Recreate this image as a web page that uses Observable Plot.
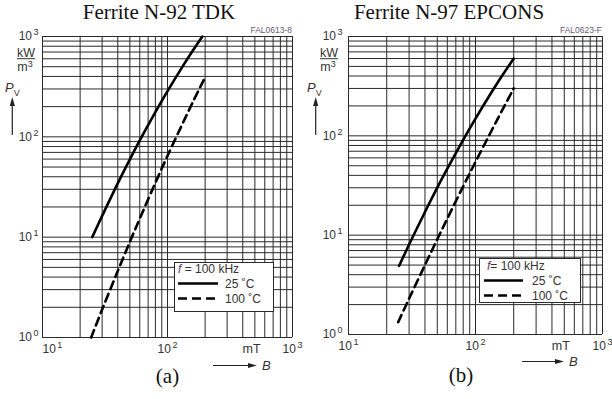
<!DOCTYPE html>
<html>
<head>
<meta charset="utf-8">
<script src="https://cdn.jsdelivr.net/npm/d3@7"></script>
<script src="https://cdn.jsdelivr.net/npm/@observablehq/plot@0.6"></script>
<style>
  body { margin: 0; background: #fff; }
  #wrap { position: relative; width: 612px; height: 399px; overflow: hidden; background: #fff; }
  .panel { position: absolute; top: 0; width: 306px; height: 399px; overflow: hidden; }
  #overlay { position: absolute; left: 0; top: 0; pointer-events: none; }
</style>
</head>
<body>
<div id="wrap">
  <div class="panel" id="pa" style="left:0"></div>
  <div class="panel" id="pb" style="left:306px"></div>
</div>
<script>
// ---------- data ----------
const titles = ["Ferrite N-92 TDK", "Ferrite N-97 EPCONS"];
const codes = ["FAL0613-8", "FAL0623-F"];
const panelLabels = ["(a)", "(b)"];
const seriesNames = ["25 \u02DAC", "100 \u02DAC"];
const freqLabel = "100 kHz";
const unitX = "mT";

// Panel (a) N-92 TDK : B in mT, Pv in kW/m3
const bA25 = [25, 30, 40, 50, 60, 80, 100, 130, 160, 190];
const pA25 = [10, 16.3, 34.4, 59.6, 92, 176, 285, 487, 728, 1000];
const bA100 = [24.5, 30, 40, 50, 60, 80, 100, 130, 160, 200];
const pA100 = [1, 1.9, 4.6, 9, 15.3, 34.8, 64.6, 130, 224, 393];
// Panel (b) N-97 EPCOS
const bB25 = [25, 30, 40, 50, 60, 80, 100, 130, 160, 200];
const pB25 = [4.9, 8.05, 17.1, 30.1, 46.7, 91.2, 149, 259, 393, 600];
const bB100 = [24.6, 30, 40, 50, 60, 80, 100, 130, 160, 200];
const pB100 = [1.33, 2.3, 5, 9.1, 14.7, 31, 54.6, 105, 175, 300];

// axes / grid
const xGrid = [10,20,30,40,50,60,70,80,90,100,200,300,400,500,600,700,800,900,1000];
const yGrid = [1,2,3,4,5,6,7,8,9,10,20,30,40,50,60,70,80,90,100,200,300,400,500,600,700,800,900,1000];
const xTicks = [10, 100, 1000];
const yTicks = [1, 10, 100, 1000];
const unitTick = [470];

const zip = (xs, ys) => xs.map((x, i) => ({B: x, P: ys[i]}));
const supFmt = d => "10^" + Math.round(Math.log10(d));
const svgNS = "http://www.w3.org/2000/svg";

function supify(svg) {
  svg.querySelectorAll("text").forEach(t => {
    const m = /^10\^(\d)$/.exec(t.textContent);
    if (m) {
      t.textContent = "10";
      const s = document.createElementNS(svgNS, "tspan");
      s.setAttribute("dx", "1.5");
      s.setAttribute("dy", "-5");
      s.setAttribute("font-size", "9");
      s.textContent = m[1];
      t.appendChild(s);
    }
  });
}

function makePanel(d25, d100, o) {
  const svg = Plot.plot({
    width: 306, height: 399,
    marginLeft: 42, marginRight: o.mr, marginTop: 36, marginBottom: o.mb,
    x: {type: "log", domain: [10, 1000]},
    y: {type: "log", domain: [1, 1000]},
    style: {background: "transparent", fontFamily: "'Liberation Sans', Arial, sans-serif", fontSize: "12px", color: "#333", overflow: "visible"},
    marks: [
      Plot.ruleX(xGrid, {stroke: "#2a2a2a", strokeWidth: 1}),
      Plot.ruleY(yGrid, {stroke: "#2a2a2a", strokeWidth: 1}),
      Plot.axisY({ticks: yTicks, tickFormat: supFmt, tickSize: 0, tickPadding: o.yPad, label: null, fontSize: 12}),
      Plot.axisX({ticks: xTicks.slice(1), tickFormat: supFmt, tickSize: 0, tickPadding: 7, label: null, fontSize: 12}),
      Plot.axisX({ticks: xTicks.slice(0, 1), tickFormat: supFmt, tickSize: 0, tickPadding: 7, label: null, fontSize: 12, textAnchor: o.firstAnchor}),
      Plot.axisX({ticks: unitTick, tickFormat: () => unitX, tickSize: 0, tickPadding: 7, label: null, fontSize: 12.5}),
      Plot.line(d25, {x: "B", y: "P", stroke: "#000", strokeWidth: 2.6, curve: "catmull-rom"}),
      Plot.line(d100, {x: "B", y: "P", stroke: "#000", strokeWidth: 2.6, strokeDasharray: "8,5", curve: "catmull-rom"})
    ]
  });
  supify(svg);
  return svg;
}

document.getElementById("pa").appendChild(makePanel(zip(bA25, pA25), zip(bA100, pA100), {mr: 14, mb: 62, yPad: 4, firstAnchor: "start"}));
document.getElementById("pb").appendChild(makePanel(zip(bB25, pB25), zip(bB100, pB100), {mr: 10, mb: 65, yPad: 6, firstAnchor: "middle"}));

// ---------- overlay: titles, unit labels, legends ----------
const ov = d3.select("#wrap").append("svg").attr("id", "overlay").attr("width", 612).attr("height", 399)
  .style("font-family", "'Liberation Sans', Arial, sans-serif");

const layout = [
  {ox: 0, titleX: 159, frameR: 292, lblX: 167.5, lblY: 383, kwX: 26, pvX: 5, arX: 12.3,
   arrowX0: 213, arrowX1: 257, arrowY: 365.5,
   leg: {x: 174, y: 262, w: 99, h: 49, tx: 178, l1: 269, l2: 283.5, l3: 298.5, sx: 178, ex: 218, vx: 225, fsep: " = "}},
  {ox: 306, titleX: 449, frameR: 602, lblX: 461, lblY: 382, kwX: 329, pvX: 307, arX: 315.7,
   arrowX0: 522, arrowX1: 564, arrowY: 361.5,
   leg: {x: 479, y: 258, w: 101, h: 44, tx: 487, l1: 266, l2: 280.5, l3: 295.5, sx: 484, ex: 523, vx: 532, fsep: "= "}}
];

layout.forEach((L, i) => {
  ov.append("text").attr("x", L.titleX).attr("y", 18.5).attr("text-anchor", "middle")
    .style("font-family", "'Liberation Serif', 'Times New Roman', serif").style("font-size", "21px").attr("fill", "#111")
    .text(titles[i]);
  ov.append("text").attr("x", L.frameR).attr("y", 32.5).attr("text-anchor", "end")
    .style("font-size", "8.5px").attr("fill", "#6a5878").text(codes[i]);
  ov.append("text").attr("x", L.lblX).attr("y", L.lblY).attr("text-anchor", "middle")
    .style("font-family", "'Liberation Serif', 'Times New Roman', serif").style("font-size", "21px").attr("fill", "#111")
    .text(panelLabels[i]);

  // y unit kW / m3
  ov.append("text").attr("x", L.kwX).attr("y", 56.5).attr("text-anchor", "middle")
    .style("font-size", "12.5px").attr("fill", "#333").text("kW");
  ov.append("line").attr("x1", L.kwX - 9).attr("x2", L.kwX + 9).attr("y1", 58.7).attr("y2", 58.7)
    .attr("stroke", "#333").attr("stroke-width", 1);
  const m3 = ov.append("text").attr("x", L.kwX - 1).attr("y", 71).attr("text-anchor", "middle")
    .style("font-size", "12.5px").attr("fill", "#333");
  m3.append("tspan").text("m");
  m3.append("tspan").attr("dy", -4.5).style("font-size", "9px").text("3");

  // P_V and up arrow
  const pv = ov.append("text").attr("x", L.pvX).attr("y", 92).style("font-size", "13px").attr("fill", "#3a3030");
  pv.append("tspan").style("font-style", "italic").text("P");
  pv.append("tspan").attr("dy", 4).style("font-size", "9px").text("V");
  ov.append("line").attr("x1", L.arX).attr("x2", L.arX).attr("y1", 135).attr("y2", 104)
    .attr("stroke", "#222").attr("stroke-width", 1.2);
  ov.append("path").attr("d", `M${L.arX},97 L${L.arX - 2.6},106 L${L.arX + 2.6},106 Z`).attr("fill", "#222");

  // B arrow
  ov.append("line").attr("x1", L.arrowX0).attr("x2", L.arrowX1 - 8).attr("y1", L.arrowY).attr("y2", L.arrowY)
    .attr("stroke", "#222").attr("stroke-width", 1.2);
  ov.append("path").attr("d", `M${L.arrowX1},${L.arrowY} L${L.arrowX1 - 9},${L.arrowY - 2.6} L${L.arrowX1 - 9},${L.arrowY + 2.6} Z`).attr("fill", "#222");
  ov.append("text").attr("x", L.arrowX1 + 5).attr("y", L.arrowY + 4.5).style("font-size", "13px").style("font-style", "italic")
    .attr("fill", "#333").text("B");

  // legend box
  const g = L.leg;
  ov.append("rect").attr("x", g.x + 0.5).attr("y", g.y + 0.5).attr("width", g.w).attr("height", g.h)
    .attr("fill", "#fff").attr("stroke", "#2a2a2a").attr("stroke-width", 1);
  const ft = ov.append("text").attr("x", g.tx).attr("y", g.l1 + 4.3).style("font-size", "12px").attr("fill", "#333");
  ft.append("tspan").style("font-style", "italic").attr("fill", "#5a3a6a").text("f");
  ft.append("tspan").text(g.fsep + freqLabel);
  ov.append("line").attr("x1", g.sx).attr("x2", g.ex).attr("y1", g.l2).attr("y2", g.l2)
    .attr("stroke", "#000").attr("stroke-width", 2.6);
  ov.append("text").attr("x", g.vx).attr("y", g.l2 + 4.3).style("font-size", "12px").attr("fill", "#333").text(seriesNames[0]);
  ov.append("line").attr("x1", g.sx).attr("x2", g.ex).attr("y1", g.l3).attr("y2", g.l3)
    .attr("stroke", "#000").attr("stroke-width", 2.6).attr("stroke-dasharray", "9,5");
  ov.append("text").attr("x", g.vx).attr("y", g.l3 + 4.3).style("font-size", "12px").attr("fill", "#333").text(seriesNames[1]);
});
</script>
</body>
</html>
